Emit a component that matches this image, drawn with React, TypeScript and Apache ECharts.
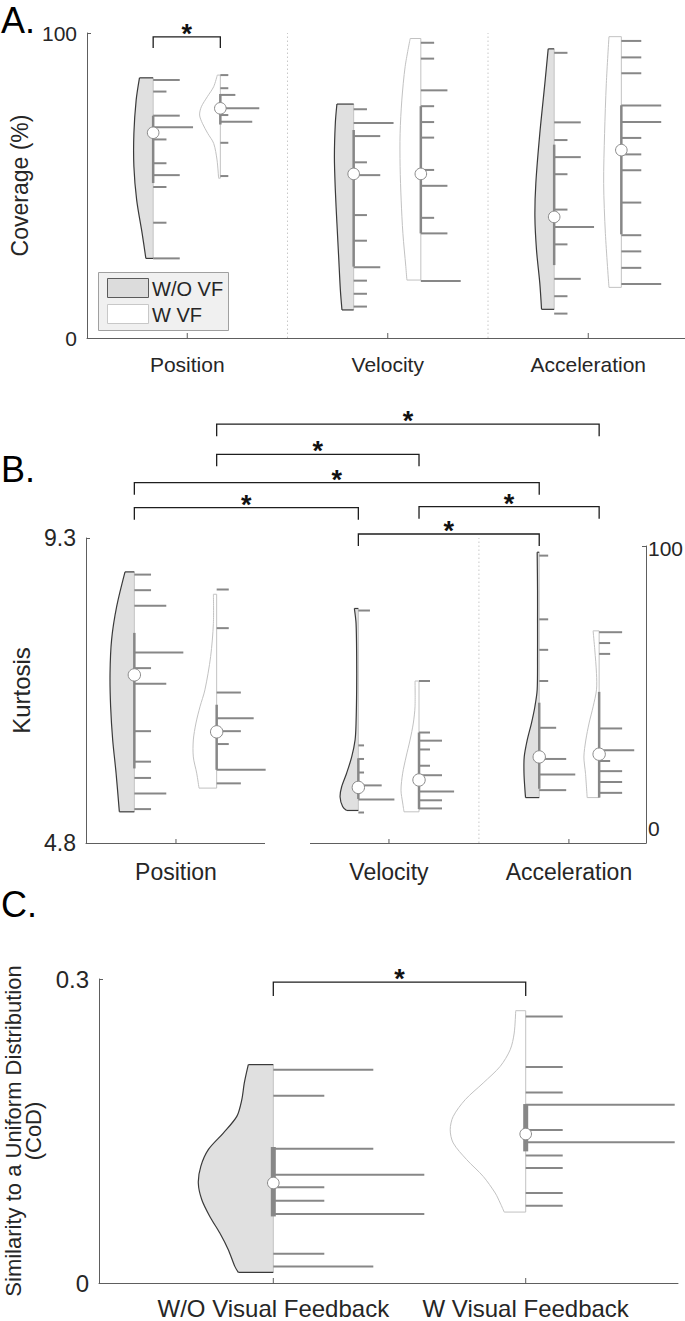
import React, { useEffect, useRef } from "react";
import * as echarts from "echarts";

const FONT = "'Liberation Sans', Arial, Helvetica, sans-serif";
const LETTER_FONT = "'Liberation Sans', Arial, sans-serif";
const TEXT = "#262626";
const AXIS = "#5e5e5e";
const LINE = "#878787";

// ---------------- Panel A : Coverage (%) ----------------
const A_CATEGORIES = ["Position", "Velocity", "Acceleration"];
const A_GROUP_X = [1, 2, 3];
const A_SEPARATORS = [1.5, 2.5];
// [value, half-width in count units]
const A_POS_WO_OUTLINE = [[85.3, 1.03], [78.0, 1.28], [67.1, 1.45], [56.2, 1.45], [45.2, 1.24], [34.3, 0.83], [26.1, 0.55]];
const A_POS_WO_LINES = [[84.6, 2], [80.8, 1], [72.9, 2], [69.1, 3], [65.1, 1], [57.3, 1], [53.4, 2], [49.5, 1], [37.8, 1], [26.1, 2]];
const A_POS_W_OUTLINE = [[86.2, 0.23], [82.4, 0.5], [79.1, 0.98], [75.8, 1.43], [73.1, 1.56], [70.4, 1.35], [67.1, 0.95], [63.8, 0.5], [58.4, 0.25], [52.4, 0.13]];
const A_POS_W_LINES = [[86.2, 0.6], [81.9, 0.6], [79.7, 1.13], [75.3, 2.93], [73.1, 0.6], [70.9, 2.4], [64.0, 0.6], [53.1, 0.6]];
const A_VEL_WO_OUTLINE = [[76.7, 1.26], [70.4, 1.38], [59.4, 1.45], [48.5, 1.38], [37.6, 1.26], [26.7, 1.13], [15.7, 1.0], [9.2, 0.88]];
const A_VEL_WO_LINES = [[75.0, 1], [70.5, 3], [66.2, 2], [57.6, 1], [53.4, 2], [40.3, 1], [31.9, 1], [23.2, 2], [18.8, 1], [14.5, 1], [10.3, 1]];
const A_VEL_W_OUTLINE = [[98.2, 0.8], [89.0, 1.18], [78.0, 1.43], [67.1, 1.56], [56.2, 1.56], [45.2, 1.48], [34.3, 1.35], [23.4, 1.13], [19.0, 1.05]];
const A_VEL_W_LINES = [[96.8, 1], [91.6, 1], [81.2, 2], [76.0, 1], [70.8, 1], [65.7, 1], [55.1, 1], [49.9, 2], [39.4, 1], [34.3, 2], [18.7, 3]];
const A_ACC_WO_OUTLINE = [[94.8, 0.45], [83.5, 0.7], [67.1, 1.08], [50.7, 1.38], [39.8, 1.45], [28.9, 1.33], [17.9, 1.08], [9.4, 0.95]];
const A_ACC_WO_LINES = [[93.5, 1], [70.7, 2], [64.9, 1], [59.3, 2], [53.7, 1], [42.1, 1], [36.4, 3], [30.7, 1], [19.4, 2], [13.7, 1], [8.0, 1]];
const A_ACC_W_OUTLINE = [[98.8, 0.93], [83.5, 1.13], [67.1, 1.26], [50.7, 1.33], [34.3, 1.2], [16.6, 0.93]];
const A_ACC_W_LINES = [[97.4, 1.5], [92.0, 1.5], [86.8, 1.5], [76.2, 3], [70.8, 3], [65.6, 1.5], [60.2, 1.5], [55.0, 1.5], [44.4, 1.5], [33.7, 1.5], [28.4, 1.5], [23.0, 1.5], [17.7, 3]];
const A_MEDIANS = [[67.3, 75.3], [53.8, 53.8], [39.7, 61.6]];
const A_IQRS = [[[72.9, 50.8], [80.0, 70.0]], [[68.2, 23.4], [76.0, 34.3]], [[63.4, 23.9], [76.3, 34.0]]];
// [from violin, to violin, level]
const A_BRACKETS = [[0, 1, 98.7]];

// ---------------- Panel B : Kurtosis ----------------
const B_CATEGORIES = ["Position", "Velocity", "Acceleration"];
const B_GROUP_X = [0.982, 2.123, 3.087];
const B_SEPARATORS = [2.605];
const B_POS_WO_OUTLINE = [[8.80, 0.77], [8.29, 1.46], [7.80, 1.88], [7.30, 2.01], [6.81, 1.96], [6.32, 1.79], [5.83, 1.51], [5.26, 1.24]];
const B_POS_WO_LINES = [[8.76, 1.38], [8.53, 1.38], [8.30, 2.64], [7.61, 4.05], [7.38, 1.38], [7.15, 2.64], [6.45, 1.38], [6.00, 1.38], [5.76, 1.38], [5.53, 2.64], [5.30, 1.38]];
const B_POS_W_OUTLINE = [[8.47, 0.27], [8.04, 0.27], [7.55, 0.5], [7.06, 0.97], [6.81, 1.38], [6.57, 1.71], [6.32, 1.93], [6.07, 1.93], [5.83, 1.65], [5.61, 1.46]];
const B_POS_W_LINES = [[8.54, 1], [7.97, 1], [7.02, 2], [6.64, 3.06], [6.45, 2], [6.26, 1], [5.88, 4.05], [5.68, 2]];
const B_VEL_WO_OUTLINE = [[8.26, 0.33], [8.04, 0.19], [7.55, 0.14], [7.06, 0.14], [6.57, 0.19], [6.32, 0.27], [6.07, 0.55], [5.83, 0.97], [5.63, 1.38], [5.48, 1.51], [5.34, 1.3], [5.28, 0.97]];
const B_VEL_WO_LINES = [[8.23, 0.96], [6.24, 0.47], [6.04, 0.47], [5.84, 0.47], [5.65, 1.93], [5.44, 2.98], [5.25, 0.47]];
const B_VEL_W_OUTLINE = [[7.19, 0.33], [6.81, 0.33], [6.57, 0.47], [6.32, 0.74], [6.07, 1.07], [5.83, 1.35], [5.58, 1.49], [5.39, 1.35], [5.26, 1.24]];
const B_VEL_W_LINES = [[7.19, 0.91], [6.43, 0.91], [6.31, 1.9], [6.18, 0.91], [5.94, 0.91], [5.80, 1.9], [5.56, 2.9], [5.43, 1.9], [5.31, 1.9]];
const B_ACC_WO_OUTLINE = [[9.09, 0.17], [8.53, 0.14], [8.04, 0.14], [7.55, 0.14], [7.06, 0.17], [6.81, 0.36], [6.57, 0.64], [6.32, 0.99], [6.07, 1.24], [5.83, 1.26], [5.58, 1.18], [5.47, 1.13]];
const B_ACC_WO_LINES = [[9.04, 0.74], [8.10, 0.74], [7.65, 0.74], [7.19, 0.74], [6.50, 1.4], [6.04, 2.23], [5.81, 2.98], [5.58, 2.23]];
const B_ACC_W_OUTLINE = [[7.93, 0.5], [7.65, 0.36], [7.30, 0.22], [7.06, 0.22], [6.81, 0.5], [6.57, 0.83], [6.32, 1.1], [6.07, 1.26], [5.83, 1.13], [5.47, 0.99]];
const B_ACC_W_LINES = [[7.91, 1.9], [7.75, 0.91], [7.59, 0.91], [6.49, 1.9], [6.17, 2.9], [6.01, 0.91], [5.86, 1.9], [5.70, 1.9], [5.54, 1.9]];
const B_MEDIANS = [[7.28, 6.44], [5.62, 5.73], [6.07, 6.11]];
const B_IQRS = [[[7.90, 5.90], [6.84, 5.88]], [[6.05, 5.45], [6.43, 5.30]], [[6.87, 5.60], [7.03, 5.47]]];
const B_BRACKETS = [[1, 5, 10.98], [1, 3, 10.535], [0, 4, 10.116], [0, 2, 9.747], [3, 5, 9.762], [2, 4, 9.359]];

// ---------------- Panel C : CoD ----------------
const C_CATEGORIES = ["W/O Visual Feedback", "W Visual Feedback"];
const C_GROUP_X = [1, 2];
const C_WO_OUTLINE = [[0.2155, 0.5], [0.1974, 0.58], [0.1809, 0.63], [0.1644, 0.73], [0.1480, 1.0], [0.1316, 1.3], [0.1151, 1.45], [0.0987, 1.5], [0.0822, 1.43], [0.0657, 1.27], [0.0493, 1.07], [0.0329, 0.9], [0.0164, 0.77], [0.0105, 0.7]];
const C_WO_LINES = [[0.2105, 2], [0.1848, 1.02], [0.1325, 2], [0.1069, 3.02], [0.0944, 1.02], [0.0812, 1.02], [0.0681, 3.02], [0.0289, 1.02], [0.0164, 2]];
const C_W_OUTLINE = [[0.2687, 0.2], [0.2467, 0.23], [0.2302, 0.31], [0.2138, 0.51], [0.1974, 0.85], [0.1809, 1.21], [0.1644, 1.45], [0.1513, 1.51], [0.1382, 1.45], [0.1217, 1.18], [0.1052, 0.85], [0.0888, 0.61], [0.0789, 0.51], [0.0700, 0.43]];
const C_W_LINES = [[0.2631, 0.74], [0.2132, 0.74], [0.1881, 0.74], [0.1760, 2.98], [0.1510, 0.74], [0.1388, 2.98], [0.1259, 0.74], [0.1135, 0.74], [0.0888, 0.74], [0.0763, 0.74]];
const C_MEDIANS = [0.0987, 0.1470];
const C_IQRS = [[0.1342, 0.0657], [0.1766, 0.1299]];
const C_BRACKETS = [[0, 1, 0.297]];

// ---------------- layout constants ----------------
const A_OFFSETS = [[-0.17, 0.165], [-0.17, 0.165], [-0.17, 0.165]];
const B_OFFSETS = [[-0.223, 0.218], [-0.164, 0.161], [-0.159, 0.162]];
const A_COUNT_X = 0.0663;
const B_COUNT_X = 0.0648;
const C_COUNT_X = 0.1981;

type Violin = { x: number; filled: boolean; outline: number[][]; lines: number[][]; median: number; iqr: number[] };

function buildViolins(groupX: number[], offsets: number[][], outlines: number[][][][], lines: number[][][][], medians: number[][], iqrs: number[][][]): Violin[] {
  const out: Violin[] = [];
  groupX.forEach((gx, g) => {
    [0, 1].forEach((s) => {
      out.push({ x: gx + offsets[g][s], filled: s === 0, outline: outlines[g][s], lines: lines[g][s], median: medians[g][s], iqr: iqrs[g][s] });
    });
  });
  return out;
}

const A_VIOLINS = buildViolins(
  A_GROUP_X, A_OFFSETS,
  [[A_POS_WO_OUTLINE, A_POS_W_OUTLINE], [A_VEL_WO_OUTLINE, A_VEL_W_OUTLINE], [A_ACC_WO_OUTLINE, A_ACC_W_OUTLINE]],
  [[A_POS_WO_LINES, A_POS_W_LINES], [A_VEL_WO_LINES, A_VEL_W_LINES], [A_ACC_WO_LINES, A_ACC_W_LINES]],
  A_MEDIANS, A_IQRS
);
const B_VIOLINS = buildViolins(
  B_GROUP_X, B_OFFSETS,
  [[B_POS_WO_OUTLINE, B_POS_W_OUTLINE], [B_VEL_WO_OUTLINE, B_VEL_W_OUTLINE], [B_ACC_WO_OUTLINE, B_ACC_W_OUTLINE]],
  [[B_POS_WO_LINES, B_POS_W_LINES], [B_VEL_WO_LINES, B_VEL_W_LINES], [B_ACC_WO_LINES, B_ACC_W_LINES]],
  B_MEDIANS, B_IQRS
);
const C_VIOLINS: Violin[] = [
  { x: C_GROUP_X[0], filled: true, outline: C_WO_OUTLINE, lines: C_WO_LINES, median: C_MEDIANS[0], iqr: C_IQRS[0] },
  { x: C_GROUP_X[1], filled: false, outline: C_W_OUTLINE, lines: C_W_LINES, median: C_MEDIANS[1], iqr: C_IQRS[1] },
];

function violinSeries(axisIdx: number, violins: Violin[], countToX: number, iqrWidth: number, r: number) {
  return {
    type: "custom",
    xAxisIndex: axisIdx,
    yAxisIndex: axisIdx,
    clip: false,
    silent: true,
    z: 3,
    data: violins.map((v, i) => [v.x, v.median, i]),
    encode: { x: 0, y: 1 },
    renderItem: (_p: any, api: any) => {
      const v = violins[api.value(2)];
      const P = (x: number, y: number) => api.coord([x, y]);
      const topV = v.outline[0][0];
      const botV = v.outline[v.outline.length - 1][0];
      const aTop = P(v.x, topV);
      const aBot = P(v.x, botV);
      const edge = v.outline.map(([val, w]) => P(v.x - w * countToX, val));
      const dark = v.filled ? "#3a3a3a" : "#c2c2c2";
      const children: any[] = [];
      children.push({ type: "polygon", shape: { points: [aTop, ...edge, aBot] }, style: { fill: v.filled ? "#e0e0e0" : "#ffffff" } });
      children.push({ type: "line", shape: { x1: aTop[0], y1: aTop[1], x2: aBot[0], y2: aBot[1] }, style: { stroke: v.filled ? "#c4c4c4" : "#c2c2c2", lineWidth: 1 } });
      children.push({ type: "polyline", shape: { points: edge, smooth: 0.3 }, style: { stroke: dark, lineWidth: v.filled ? 1.2 : 1, fill: null } });
      children.push({ type: "line", shape: { x1: aTop[0], y1: aTop[1], x2: edge[0][0], y2: edge[0][1] }, style: { stroke: dark, lineWidth: v.filled ? 1.2 : 1 } });
      const le = edge[edge.length - 1];
      children.push({ type: "line", shape: { x1: aBot[0], y1: aBot[1], x2: le[0], y2: le[1] }, style: { stroke: dark, lineWidth: v.filled ? 1.2 : 1 } });
      const q1 = P(v.x, v.iqr[0]);
      const q2 = P(v.x, v.iqr[1]);
      children.push({ type: "line", shape: { x1: q1[0], y1: q1[1], x2: q2[0], y2: q2[1] }, style: { stroke: LINE, lineWidth: iqrWidth } });
      v.lines.forEach(([val, w]) => {
        const s = P(v.x, val);
        const e = P(v.x + w * countToX, val);
        children.push({ type: "line", shape: { x1: s[0], y1: s[1], x2: e[0], y2: e[1] }, style: { stroke: LINE, lineWidth: 2 } });
      });
      const m = P(v.x, v.median);
      children.push({ type: "circle", shape: { cx: m[0], cy: m[1], r }, style: { fill: "#ffffff", stroke: "#8a8a8a", lineWidth: 1 } });
      return { type: "group", children };
    },
  };
}

function categorySeries(axisIdx: number, names: string[], xs: number[], yBase: number, tickLen: number, labelOffset: number, fontSize: number) {
  return {
    type: "custom",
    xAxisIndex: axisIdx,
    yAxisIndex: axisIdx,
    clip: false,
    silent: true,
    z: 4,
    data: names.map((_n, i) => [xs[i], yBase, i]),
    encode: { x: 0, y: 1 },
    renderItem: (_p: any, api: any) => {
      const pt = api.coord([api.value(0), api.value(1)]);
      return {
        type: "group",
        children: [
          { type: "line", shape: { x1: pt[0], y1: pt[1], x2: pt[0], y2: pt[1] - tickLen }, style: { stroke: AXIS, lineWidth: 1 } },
          { type: "text", x: pt[0], y: pt[1] + labelOffset, style: { text: names[api.value(2)], align: "center", verticalAlign: "middle", fontSize, fontFamily: FONT, fill: TEXT } },
        ],
      };
    },
  };
}

function separatorSeries(axisIdx: number, seps: number[], yMin: number, yMax: number) {
  return {
    type: "custom",
    xAxisIndex: axisIdx,
    yAxisIndex: axisIdx,
    clip: false,
    silent: true,
    z: 1,
    data: seps.map((s) => [s, yMin]),
    encode: { x: 0, y: 1 },
    renderItem: (_p: any, api: any) => {
      const a = api.coord([api.value(0), yMin]);
      const b = api.coord([api.value(0), yMax]);
      return { type: "line", shape: { x1: a[0], y1: a[1], x2: b[0], y2: b[1] }, style: { stroke: "#c8c8c8", lineWidth: 1, lineDash: [1.5, 2.5] } };
    },
  };
}

function bracketSeries(axisIdx: number, violins: Violin[], brackets: number[][], drop: number) {
  return {
    type: "custom",
    xAxisIndex: axisIdx,
    yAxisIndex: axisIdx,
    clip: false,
    silent: true,
    z: 5,
    data: brackets.map((b, i) => [(violins[b[0]].x + violins[b[1]].x) / 2, b[2], i]),
    encode: { x: 0, y: 1 },
    renderItem: (_p: any, api: any) => {
      const b = brackets[api.value(2)];
      const p1 = api.coord([violins[b[0]].x, b[2]]);
      const p2 = api.coord([violins[b[1]].x, b[2]]);
      return {
        type: "group",
        children: [
          { type: "polyline", shape: { points: [[p1[0], p1[1] + drop], [p1[0], p1[1]], [p2[0], p2[1]], [p2[0], p2[1] + drop]] }, style: { stroke: "#1e1e1e", lineWidth: 1.3, fill: null } },
          { type: "text", x: (p1[0] + p2[0]) / 2, y: p1[1] - 3, style: { text: "*", align: "center", verticalAlign: "middle", fontSize: 27, fontWeight: "bold", fontFamily: FONT, fill: "#111" } },
        ],
      };
    },
  };
}

const axisLineStyle = { show: true, onZero: false, lineStyle: { color: AXIS, width: 1 } };
const hidden = { show: false };

function xAxisDef(gridIndex: number, min: number, max: number) {
  return { gridIndex, type: "value", min, max, axisLine: axisLineStyle, axisTick: hidden, axisLabel: hidden, splitLine: hidden };
}

const option: any = {
  animation: false,
  backgroundColor: "#ffffff",
  grid: [
    { left: 87, top: 33, width: 598, height: 305, containLabel: false, outerBoundsMode: "none" },
    { left: 86, top: 538, width: 560, height: 305, containLabel: false, outerBoundsMode: "none" },
    { left: 86, top: 546, width: 560, height: 297, containLabel: false, outerBoundsMode: "none" },
    { left: 99, top: 979, width: 579, height: 304, containLabel: false, outerBoundsMode: "none" },
  ],
  xAxis: [
    xAxisDef(0, 0.5, 3.4825),
    xAxisDef(1, 0.5, 3.5),
    { gridIndex: 2, type: "value", min: 0, max: 1, show: false },
    xAxisDef(3, 0.3094, 2.6034),
  ],
  yAxis: [
    {
      gridIndex: 0, type: "value", min: 0, max: 100, interval: 100,
      name: "Coverage (%)", nameLocation: "middle", nameGap: 49,
      nameTextStyle: { fontSize: 23, fontFamily: FONT, color: TEXT },
      axisLine: axisLineStyle, axisTick: { show: true, inside: true, length: 4, lineStyle: { color: AXIS } },
      axisLabel: { fontSize: 21, fontFamily: FONT, color: TEXT, margin: 10 }, splitLine: hidden,
    },
    {
      gridIndex: 1, type: "value", min: 4.8, max: 9.3, interval: 4.5,
      name: "Kurtosis", nameLocation: "middle", nameGap: 47,
      nameTextStyle: { fontSize: 24, fontFamily: FONT, color: TEXT },
      axisLine: axisLineStyle, axisTick: { show: true, inside: true, length: 4, lineStyle: { color: AXIS } },
      axisLabel: { fontSize: 23, fontFamily: FONT, color: TEXT, margin: 10, formatter: (v: number) => v.toFixed(1) }, splitLine: hidden,
    },
    {
      gridIndex: 2, type: "value", position: "right", min: 0, max: 100, interval: 100,
      axisLine: axisLineStyle, axisTick: { show: true, inside: true, length: 4, lineStyle: { color: AXIS } },
      axisLabel: {
        fontSize: 21, fontFamily: FONT, color: TEXT, margin: 2,
        formatter: (v: number) => (v === 0 ? "{lift|0}" : "{drop|" + String(v) + "}"),
        rich: {
          lift: { fontSize: 21, fontFamily: FONT, color: TEXT, padding: [0, 0, 30, 0] },
          drop: { fontSize: 21, fontFamily: FONT, color: TEXT, padding: [4, 0, 0, 0] },
        },
      },
      splitLine: hidden,
    },
    {
      gridIndex: 3, type: "value", min: 0, max: 0.3, interval: 0.3,
      name: "Similarity to a Uniform Distribution\n(CoD)", nameLocation: "middle", nameGap: 54,
      nameTextStyle: { fontSize: 22, lineHeight: 20, fontFamily: FONT, color: TEXT },
      axisLine: axisLineStyle, axisTick: { show: true, inside: true, length: 4, lineStyle: { color: AXIS } },
      axisLabel: { fontSize: 24, fontFamily: FONT, color: TEXT, margin: 10 }, splitLine: hidden,
    },
  ],
  series: [
    separatorSeries(0, A_SEPARATORS, 0, 100),
    violinSeries(0, A_VIOLINS, A_COUNT_X, 2.5, 5.8),
    categorySeries(0, A_CATEGORIES, A_GROUP_X, 0, 5, 26, 21),
    bracketSeries(0, A_VIOLINS, A_BRACKETS, 11),

    separatorSeries(1, B_SEPARATORS, 4.8, 9.3),
    violinSeries(1, B_VIOLINS, B_COUNT_X, 2.5, 6.2),
    categorySeries(1, B_CATEGORIES, B_GROUP_X, 4.8, 4, 29, 23),
    bracketSeries(1, B_VIOLINS, B_BRACKETS, 12),

    violinSeries(3, C_VIOLINS, C_COUNT_X, 5, 5.8),
    categorySeries(3, C_CATEGORIES, C_GROUP_X, 0, 5, 25, 24),
    bracketSeries(3, C_VIOLINS, C_BRACKETS, 14),
  ],
  graphic: [
    { type: "text", x: 1, y: 0, style: { text: "A.", fontSize: 36, lineHeight: 41, fontFamily: LETTER_FONT, fill: "#000", verticalAlign: "top" } },
    { type: "text", x: 1, y: 449, style: { text: "B.", fontSize: 36, lineHeight: 41, fontFamily: LETTER_FONT, fill: "#000", verticalAlign: "top" } },
    { type: "text", x: 1, y: 884, style: { text: "C.", fontSize: 36, lineHeight: 41, fontFamily: LETTER_FONT, fill: "#000", verticalAlign: "top" } },
    { type: "rect", z: 100, shape: { x: 265, y: 840, width: 45, height: 6 }, style: { fill: "#ffffff" } },
    { type: "rect", z: 100, shape: { x: 98.5, y: 272.5, width: 130, height: 58 }, style: { fill: "#f0f0f0", stroke: "#a0a0a0", lineWidth: 1 } },
    { type: "rect", z: 101, shape: { x: 107.5, y: 278.5, width: 41, height: 19 }, style: { fill: "#dcdcdc", stroke: "#5a5a5a", lineWidth: 1 } },
    { type: "text", z: 101, x: 152, y: 289, style: { text: "W/O VF", fontSize: 20, fontFamily: FONT, fill: TEXT, verticalAlign: "middle" } },
    { type: "rect", z: 101, shape: { x: 107.5, y: 304.5, width: 41, height: 19 }, style: { fill: "#ffffff", stroke: "#c8c8c8", lineWidth: 1 } },
    { type: "text", z: 101, x: 152, y: 315, style: { text: "W VF", fontSize: 20, fontFamily: FONT, fill: TEXT, verticalAlign: "middle" } },
  ],
};

export default function App() {
  const ref = useRef<HTMLDivElement>(null);
  useEffect(() => {
    const chart = echarts.init(ref.current as HTMLDivElement, null, { renderer: "svg" });
    chart.setOption(option);
    return () => chart.dispose();
  }, []);
  return <div ref={ref} style={{ position: "absolute", left: 0, top: 0, width: 685, height: 1321, background: "#ffffff" }} />;
}
